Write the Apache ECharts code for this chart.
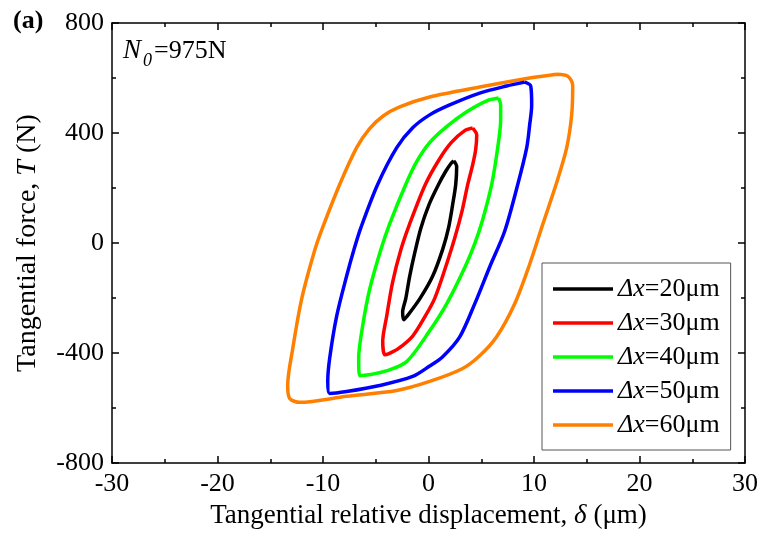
<!DOCTYPE html>
<html>
<head>
<meta charset="utf-8">
<script src="https://cdn.jsdelivr.net/npm/echarts@6/dist/echarts.min.js"></script>
<style>
  html, body { margin: 0; padding: 0; background: #fff; }
  #chart { width: 761px; height: 534px; }
</style>
</head>
<body>
<div id="chart"></div>
<script>
// loops, [displacement um, force N], clockwise from the top-right tip
const loop20 = [[2.39,299],[2.67,278],[2.58,213],[2.29,140],[1.91,57],[1.35,-22],[0.4,-120],[-0.83,-203],[-2.07,-268],[-2.35,-279],
  [-2.45,-251],[-2.16,-203],[-1.78,-120],[-1.3,-35],[-0.72,55],[0.05,140],[0.95,213],[1.65,262],[2.15,290],[2.39,299]];
const loop30 = [[4.19,418],[4.57,393],[4.47,339],[4.19,285],[3.72,213],[3.2,120],[2.5,20],[1.6,-90],[0.6,-200],[-0.3,-265],[-1.5,-338],[-2.9,-385],[-3.8,-403],[-4.15,-406],
  [-4.34,-358],[-3.96,-265],[-3.4,-142],[-2.6,-22],[-1.8,68],[-0.3,213],[1.0,303],[2.15,365],[3.4,408],[4.19,418]];
const loop40 = [[6.65,527],[6.84,502],[6.84,448],[6.56,347],[5.99,213],[5.14,86],[4.4,0],[3.45,-88],[1.72,-221],[0.11,-319],[-2.07,-431],[-4.0,-465],[-5.5,-478],[-6.52,-482],
  [-6.62,-420],[-6.24,-301],[-5.57,-167],[-4.5,-22],[-3.7,68],[-2.16,213],[-1.12,296],[0.11,365],[1.72,423],[3.62,477],[5.52,517],[6.65,527]];
const loop50 = [[9.12,585],[9.69,571],[9.78,502],[9.59,430],[9.31,347],[8.46,213],[7.22,43],[5.8,-87],[4.38,-221],[2.96,-341],[1.35,-413],[0.11,-447],[-1.5,-485],[-4.63,-518],[-7.76,-540],[-9.37,-547],
  [-9.55,-503],[-9.37,-420],[-8.7,-265],[-7.76,-120],[-7.05,-22],[-6.4,57],[-4.82,213],[-3.01,347],[-1.5,419],[0.11,466],[2.01,502],[4.85,545],[7.41,571],[9.12,585]];
const loop60 = [[12.15,614],[13.19,607],[13.67,574],[13.57,466],[13.1,347],[12.15,220],[10.83,68],[9.59,-77],[8.17,-221],[6.46,-341],[4.85,-410],[3.24,-456],[0.11,-503],[-3.02,-536],[-7.76,-557],[-12.2,-579],[-13.16,-565],
  [-13.35,-518],[-12.87,-384],[-12.02,-203],[-10.75,-22],[-10.03,57],[-8.42,213],[-6.81,347],[-5.6,415],[-4.3,462],[-2.73,495],[0.11,531],[4.85,567],[9.59,600],[12.15,614]];

const seriesNames = ['Δx=20μm', 'Δx=30μm', 'Δx=40μm', 'Δx=50μm', 'Δx=60μm'];
const seriesColors = ['#000000', '#ff0000', '#00ff00', '#0000ff', '#ff8000'];
const loops = [loop20, loop30, loop40, loop50, loop60];

const xTicks = { min: -30, max: 30, interval: 10 };
const yTicks = { min: -800, max: 800, interval: 400 };

const font = 'Liberation Serif';
const lineStyle = { color: '#000', width: 1.5 };

function axis(range, pos, labels, extra) {
  return Object.assign({
    type: 'value',
    min: range.min, max: range.max, interval: range.interval,
    position: pos,
    axisLine: { onZero: false, lineStyle: lineStyle },
    axisTick: { inside: true, length: 7, lineStyle: lineStyle },
    minorTick: { show: true, splitNumber: 2, length: 4, lineStyle: lineStyle },
    splitLine: { show: false },
    axisLabel: { show: labels, color: '#000', fontFamily: font, fontSize: 26, margin: 8 }
  }, extra || {});
}

function nameStyle(size) {
  return {
    color: '#000', fontFamily: font, fontSize: size,
    rich: { i: { fontStyle: 'italic', fontFamily: font, fontSize: size, color: '#000' } }
  };
}

const chart = echarts.init(document.getElementById('chart'));
chart.setOption({
  animation: false,
  backgroundColor: '#fff',
  grid: { left: 112, right: 16, top: 23, bottom: 69 },
  xAxis: [
    axis(xTicks, 'bottom', true, {
      name: 'Tangential relative displacement, {i|δ} (μm)',
      nameLocation: 'middle', nameGap: 37, nameTextStyle: nameStyle(27)
    }),
    axis(xTicks, 'top', false)
  ],
  yAxis: [
    axis(yTicks, 'left', true, {
      name: 'Tangential force, {i|T} (N)',
      nameLocation: 'middle', nameGap: 70, nameTextStyle: nameStyle(28)
    }),
    axis(yTicks, 'right', false)
  ],
  legend: {
    orient: 'vertical',
    left: 542, top: 263,
    padding: [13, 11, 12, 11],
    itemGap: 8,
    itemWidth: 60, itemHeight: 3.5,
    icon: 'rect',
    borderColor: '#555', borderWidth: 1,
    data: seriesNames,
    formatter: function (name) { return '{i|Δx}{n|' + name.slice(2) + '}'; },
    textStyle: {
      color: '#000', fontFamily: font, fontSize: 26,
      rich: {
        i: { fontStyle: 'italic', fontFamily: font, fontSize: 26, lineHeight: 26, color: '#000' },
        n: { fontFamily: font, fontSize: 26, lineHeight: 26, color: '#000' }
      }
    }
  },
  graphic: [
    { type: 'text', left: 13, top: 8, style: { text: '(a)', font: 'bold 26px "Liberation Serif"', fill: '#000' } },
    { type: 'text', left: 123, top: 37, style: { text: 'N', font: 'italic 27px "Liberation Serif"', fill: '#000' } },
    { type: 'text', left: 143, top: 52, style: { text: '0', font: 'italic 18px "Liberation Serif"', fill: '#000' } },
    { type: 'text', left: 154, top: 38, style: { text: '=975N', font: '26px "Liberation Serif"', fill: '#000' } }
  ],
  series: loops.map(function (d, i) {
    return {
      name: seriesNames[i],
      type: 'line',
      data: d,
      showSymbol: false,
      smooth: 0.3,
      color: seriesColors[i],
      lineStyle: { color: seriesColors[i], width: 3.5 },
      z: 10 - i
    };
  })
});
</script>
</body>
</html>
